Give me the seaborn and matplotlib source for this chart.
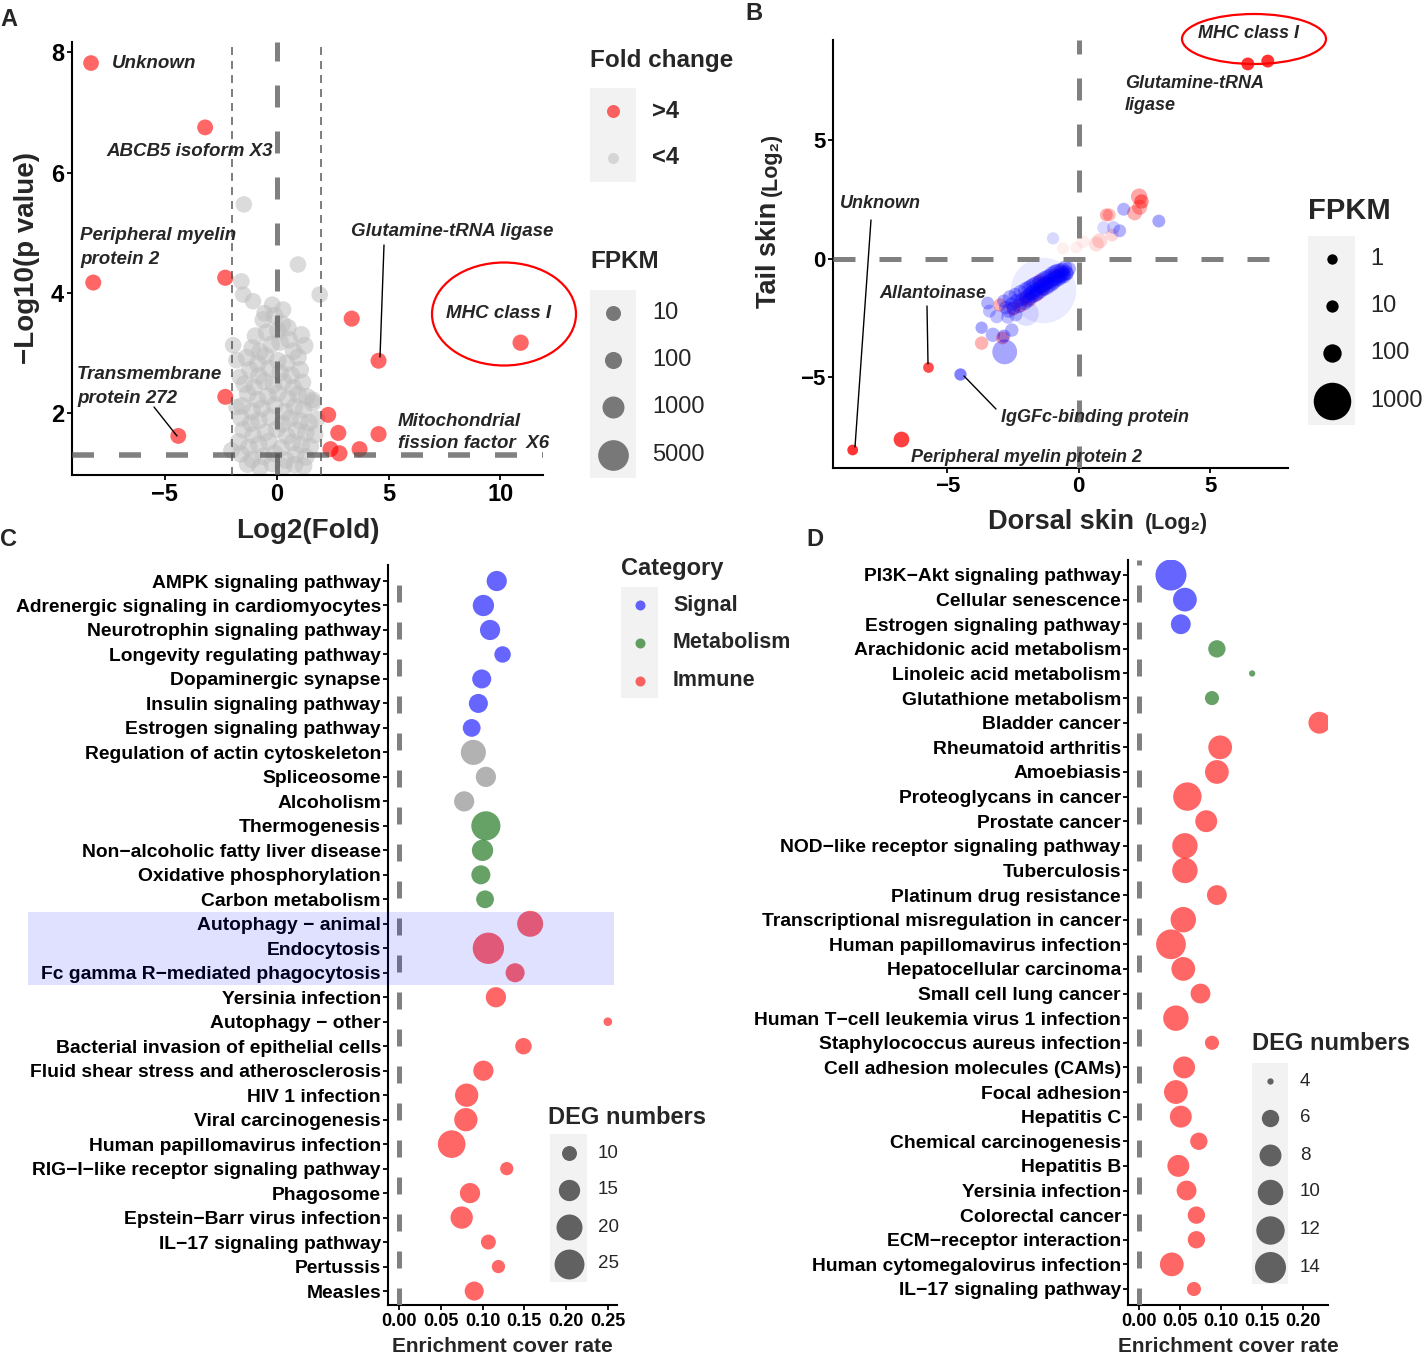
import numpy as np
import pandas as pd
import matplotlib
matplotlib.use('Agg')
import matplotlib.pyplot as plt
import matplotlib.transforms as mtransforms
from matplotlib.patches import Rectangle, Ellipse
from matplotlib.lines import Line2D
from matplotlib.ticker import FormatStrFormatter
import seaborn as sns

########## data ##########
# A: volcano plot
a_red_x = [-8.3, -3.2, -8.2, -2.3, -2.3, -4.4, 3.35, 4.55, 10.9, 2.3, 2.75, 2.4, 2.8, 3.7, 4.55]
a_red_y = [7.82, 6.75, 4.17, 4.25, 2.27, 1.62, 3.57, 2.87, 3.17, 1.97, 1.67, 1.40, 1.33, 1.40, 1.65]
a_red_fpkm = [20, 25, 30, 40, 30, 25, 35, 30, 45, 30, 35, 30, 40, 30, 35]

a_grey_x = [-1.47, 0.95, -1.58, -1.50, -1.06, 1.92, -0.54, 0.28, -0.20, -1.95, -1.80, -1.65, -1.80, -2.02, 1.62, 1.80,
            -0.6, -0.1, 0.25, 0.5,
            -0.95, -0.45, 0.05, 0.55, 1.1,
            -1.1, -0.75, -0.25, 0.15, 0.75, 1.25,
            -1.35, -0.85, -0.5, 0.05, 0.45, 0.95,
            -1.2, -0.8, -0.35, 0.15, 0.65, 1.05,
            -1.45, -1.0, -0.55, -0.15, 0.3, 0.75, 1.15,
            -1.3, -0.85, -0.4, 0.05, 0.5, 0.95, 1.35,
            -1.55, -1.1, -0.65, -0.1, 0.35, 0.8, 1.2, 1.6,
            -1.6, -1.15, -0.8, -0.3, 0.25, 0.6, 1.05, 1.45,
            -1.5, -1.05, -0.5, 0.0, 0.45, 0.9, 1.3, 1.7,
            -1.7, -1.25, -0.8, -0.35, 0.2, 0.7, 1.1, 1.5,
            -1.6, -1.1, -0.6, -0.1, 0.4, 0.85, 1.3,
            -1.3, -0.75, -0.2, 0.3, 0.8, 1.2]
a_grey_y = [5.47, 4.47, 4.19, 3.97, 3.86, 3.97, 3.66, 3.72, 3.80, 3.13, 2.88, 2.60, 2.10, 1.38, 2.22, 1.90,
            3.55, 3.62, 3.48, 3.42,
            3.28, 3.34, 3.37, 3.22, 3.30,
            3.08, 3.02, 3.14, 3.18, 3.03, 3.12,
            2.92, 2.82, 2.95, 2.87, 2.83, 2.93,
            2.72, 2.62, 2.74, 2.67, 2.63, 2.72,
            2.48, 2.43, 2.53, 2.47, 2.52, 2.42, 2.51,
            2.32, 2.22, 2.28, 2.33, 2.24, 2.31, 2.27,
            2.12, 2.03, 2.08, 2.13, 2.02, 2.11, 2.06, 2.17,
            1.92, 1.83, 1.88, 1.93, 1.82, 1.91, 1.87, 1.84,
            1.72, 1.63, 1.68, 1.73, 1.62, 1.71, 1.67, 1.64,
            1.52, 1.43, 1.48, 1.53, 1.42, 1.51, 1.47, 1.44,
            1.32, 1.23, 1.28, 1.33, 1.22, 1.31, 1.27,
            1.15, 1.10, 1.16, 1.11, 1.14, 1.12]
a_grey_fpkm = [60, 60, 60, 60, 60, 60, 80, 80, 80, 60, 60, 60, 60, 80, 60, 60] + [150] * 86

# B: dorsal vs tail skin -- labelled and scattered genes
b_x = [6.44, 7.20, -8.61, -6.78, -5.75, -4.53,
       2.30, 2.39, 2.32, 2.13, 1.71, 1.05, 1.16, 3.05, 0.95, 1.31, 1.56, 1.27, 0.80, 0.67, -0.98, -0.60, -0.09, 0.16,
       -1.37, -2.00,
       -3.47, -3.00, -3.12, -3.70, -3.27, -2.55, -2.90, -2.85, -3.70, -2.82, -3.40, -2.70, -2.40]
b_y = [8.23, 8.35, -8.06, -7.59, -4.56, -4.85,
       2.63, 2.46, 2.18, 1.95, 2.10, 1.86, 1.86, 1.60, 1.32, 1.36, 1.19, 1.01, 0.77, 0.63, 0.87, 0.45, 0.49, 0.73,
       -1.31, -2.30,
       -1.86, -1.94, -2.43, -2.90, -3.20, -3.00, -3.33, -3.25, -3.55, -3.92, -2.20, -2.45, -2.35]
b_fpkm = [15, 15, 2, 50, 2, 10,
          60, 30, 40, 40, 15, 15, 15, 15, 15, 15, 15, 15, 40, 40, 10, 10, 10, 15,
          4000, 300,
          15, 20, 20, 10, 30, 20, 15, 15, 20, 300, 15, 20, 20]
b_dir = (['up'] * 5 + ['down']
         + ['up', 'up', 'up', 'up', 'down', 'up', 'up', 'down', 'down', 'down', 'down', 'up', 'up', 'up', 'down', 'up', 'up', 'up']
         + ['down', 'down']
         + ['down', 'up', 'down', 'down', 'down', 'down', 'up', 'down', 'up', 'down', 'down', 'down', 'down'])
b_alpha = ([0.8, 0.8, 0.8, 0.75, 0.7, 0.5]
           + [0.35, 0.45, 0.3, 0.3, 0.3, 0.3, 0.25, 0.35, 0.15, 0.2, 0.3, 0.15, 0.15, 0.12, 0.15, 0.06, 0.06, 0.06]
           + [0.08, 0.12]
           + [0.3, 0.3, 0.25, 0.35, 0.3, 0.3, 0.35, 0.35, 0.3, 0.35, 0.25, 0.25, 0.25])

# B: dense cloud of down-regulated genes
b_core_x = [-0.38, -0.45,
            -0.52, -0.48, -0.55, -0.62, -0.58, -0.66, -0.72, -0.68, -0.75, -0.83, -0.78, -0.86,
            -0.92, -0.88, -0.95, -1.03, -0.97, -1.05, -1.12, -1.08, -1.15, -1.22, -1.18, -1.26,
            -1.32, -1.28, -1.35, -1.43, -1.38, -1.45, -1.52, -1.48, -1.56, -1.63, -1.58, -1.66,
            -1.72, -1.68, -1.75, -1.83, -1.78, -1.86, -1.92, -1.88, -1.96, -2.03, -1.98, -2.06,
            -2.22, -2.15, -2.28, -2.42, -2.36, -2.48, -2.62, -2.55, -2.68,
            -2.85, -2.78]
b_core_y = [-0.42, -0.62,
            -0.36, -0.58, -0.74, -0.47, -0.64, -0.79, -0.49, -0.68, -0.86, -0.52, -0.73, -0.92,
            -0.55, -0.80, -1.02, -0.62, -0.84, -1.08, -0.70, -0.93, -1.15, -0.77, -1.00, -1.22,
            -0.82, -1.04, -1.28, -0.90, -1.13, -1.36, -0.97, -1.19, -1.42, -1.03, -1.28, -1.52,
            -1.10, -1.34, -1.58, -1.16, -1.43, -1.67, -1.22, -1.49, -1.76, -1.30, -1.58, -1.86,
            -1.40, -1.70, -1.98, -1.50, -1.78, -2.08, -1.62, -1.90, -2.18,
            -1.78, -2.05]
b_core_fpkm = [30, 20,
               30, 40, 20, 40, 30, 20, 30, 40, 20, 40, 30, 20,
               30, 40, 20, 30, 40, 30, 20, 40, 30, 30, 20, 40,
               30, 40, 20, 30, 40, 30, 20, 30, 40, 30, 20, 30,
               40, 30, 20, 30, 40, 20, 30, 20, 30, 40, 20, 30,
               30, 20, 30, 20, 30, 20, 30, 20, 30,
               20, 20]
b_mix_x = [-1.87, -1.50, -1.20, -2.20, -2.50, -0.90, -1.60, -0.65, -2.05, -1.35]
b_mix_y = [-1.73, -0.95, -1.00, -1.95, -2.10, -0.70, -1.50, -0.55, -1.65, -1.25]

# C: KEGG enrichment (dorsal)
c_path = ['AMPK signaling pathway', 'Adrenergic signaling in cardiomyocytes', 'Neurotrophin signaling pathway',
          'Longevity regulating pathway', 'Dopaminergic synapse', 'Insulin signaling pathway',
          'Estrogen signaling pathway', 'Regulation of actin cytoskeleton', 'Spliceosome', 'Alcoholism',
          'Thermogenesis', 'Non−alcoholic fatty liver disease', 'Oxidative phosphorylation', 'Carbon metabolism',
          'Autophagy − animal', 'Endocytosis', 'Fc gamma R−mediated phagocytosis', 'Yersinia infection',
          'Autophagy − other', 'Bacterial invasion of epithelial cells', 'Fluid shear stress and atherosclerosis',
          'HIV 1 infection', 'Viral carcinogenesis', 'Human papillomavirus infection',
          'RIG−I−like receptor signaling pathway', 'Phagosome', 'Epstein−Barr virus infection',
          'IL−17 signaling pathway', 'Pertussis', 'Measles']
c_rate = [0.117, 0.101, 0.109, 0.124, 0.099, 0.095, 0.087, 0.089, 0.104, 0.078, 0.104, 0.100, 0.098, 0.103,
          0.157, 0.107, 0.139, 0.116, 0.250, 0.149, 0.101, 0.081, 0.080, 0.063, 0.129, 0.085, 0.075, 0.107,
          0.119, 0.090]
c_deg = [14, 15, 14, 11, 13, 13, 12, 19, 14, 14, 24, 15, 13, 12, 20, 27, 13, 14, 7, 11, 14, 17, 17, 22, 9, 14,
         16, 10, 9, 13]
c_cat = ['Signal'] * 7 + ['Other'] * 3 + ['Metabolism'] * 4 + ['Immune'] * 16

# D: KEGG enrichment (tail)
d_path = ['PI3K−Akt signaling pathway', 'Cellular senescence', 'Estrogen signaling pathway',
          'Arachidonic acid metabolism', 'Linoleic acid metabolism', 'Glutathione metabolism', 'Bladder cancer',
          'Rheumatoid arthritis', 'Amoebiasis', 'Proteoglycans in cancer', 'Prostate cancer',
          'NOD−like receptor signaling pathway', 'Tuberculosis', 'Platinum drug resistance',
          'Transcriptional misregulation in cancer', 'Human papillomavirus infection', 'Hepatocellular carcinoma',
          'Small cell lung cancer', 'Human T−cell leukemia virus 1 infection', 'Staphylococcus aureus infection',
          'Cell adhesion molecules (CAMs)', 'Focal adhesion', 'Hepatitis C', 'Chemical carcinogenesis',
          'Hepatitis B', 'Yersinia infection', 'Colorectal cancer', 'ECM−receptor interaction',
          'Human cytomegalovirus infection', 'IL−17 signaling pathway']
d_rate = [0.039, 0.056, 0.051, 0.095, 0.138, 0.089, 0.220, 0.099, 0.095, 0.059, 0.082, 0.056, 0.056, 0.095,
          0.054, 0.039, 0.054, 0.075, 0.045, 0.089, 0.055, 0.045, 0.051, 0.073, 0.048, 0.058, 0.070, 0.070,
          0.040, 0.067]
d_deg = [14, 9, 7, 6, 4, 5, 8, 9, 9, 12, 8, 10, 10, 7, 10, 13, 9, 7, 10, 5, 8, 9, 8, 6, 8, 7, 6, 6, 9, 5]
d_cat = ['Signal'] * 3 + ['Metabolism'] * 3 + ['Immune'] * 24

cat_colors = {'Signal': 'blue', 'Metabolism': 'darkgreen', 'Immune': 'red', 'Other': '#7f7f7f'}
##########################

W, H = 1426, 1357
PT = 0.72  # points per pixel at dpi 100
R_GREY = '#bebebe'

sns.set_style('ticks')
plt.rcParams['font.family'] = ['Liberation Sans', 'DejaVu Sans']
plt.rcParams['font.weight'] = 'bold'
plt.rcParams['axes.labelweight'] = 'bold'
plt.rcParams['lines.scale_dashes'] = False
plt.rcParams['axes.linewidth'] = 1.5


def fx(x):
    return x / W


def fy(y):
    return 1 - y / H


def box(l, t, r, b):
    return [fx(l), fy(b), (r - l) / W, (b - t) / H]


# ggplot-like area scales: diameter (px) -> marker area (pt^2)
def area(d):
    return (d * PT) ** 2


def diam_a(f):
    return 15 + 15.7 * np.sqrt(max(f - 10, 0) / 4990)


def diam_b(f):
    return 9.5 + 28 * np.sqrt(f / 1000)


def diam_c(v):
    return 2.3 + 29 * np.sqrt((v - 6) / 21)


def diam_d(v):
    return 6.3 + 24.7 * np.sqrt((v - 4) / 10)


def style_axes(ax, labelsize):
    sns.despine(ax=ax)
    for s in ['left', 'bottom']:
        ax.spines[s].set_linewidth(1.5)
        ax.spines[s].set_color('black')
    ax.tick_params(direction='out', length=5 * PT, width=1.3, labelsize=labelsize, colors='black', pad=2)
    ax.set_facecolor('white')


def dashed(ax, orient, v, lw_px, on_px, off_px, color, alpha=1.0):
    f = ax.axhline if orient == 'h' else ax.axvline
    ln = f(v, color=color, lw=lw_px * PT, alpha=alpha, zorder=4)
    ln.set_dashes((on_px * PT, off_px * PT))


def legend_block(title, tx, ty, tsize, keybox, keys, label_x, lsize, lweight):
    fig.text(fx(tx), fy(ty), title, fontsize=tsize, fontweight='bold', ha='left', va='center')
    l, t, r, b = keybox
    fig.add_artist(Rectangle((fx(l), fy(b)), (r - l) / W, (b - t) / H, transform=fig.transFigure,
                             facecolor='#f2f2f2', edgecolor='none'))
    kx = (l + r) / 2
    for ky, d, col, al, lab in keys:
        fig.add_artist(Line2D([fx(kx)], [fy(ky)], marker='o', markersize=d * PT, markerfacecolor=col,
                              markeredgecolor='none', alpha=al, linestyle='none', transform=fig.transFigure))
        fig.text(fx(label_x), fy(ky), lab, fontsize=lsize, fontweight=lweight, ha='left', va='center')


def note(x, y, s, size=13.5, **kw):
    fig.text(fx(x), fy(y), s, fontsize=size, fontweight='bold', fontstyle='italic', ha='left', va='center', **kw)


def seg(x0, y0, x1, y1):
    fig.add_artist(Line2D([fx(x0), fx(x1)], [fy(y0), fy(y1)], color='black', lw=1.0, transform=fig.transFigure))


def ring(cx, cy, w, h):
    fig.add_artist(Ellipse((fx(cx), fy(cy)), w / W, h / H, transform=fig.transFigure,
                           fill=False, edgecolor='red', lw=1.6))


fig = plt.figure(figsize=(W / 100, H / 100), dpi=100)
fig.patch.set_facecolor('white')

# ---------------- A ----------------
dfA = pd.concat([
    pd.DataFrame({'lfc': a_grey_x, 'logp': a_grey_y, 'fpkm': a_grey_fpkm, 'fold': '<4'}),
    pd.DataFrame({'lfc': a_red_x, 'logp': a_red_y, 'fpkm': a_red_fpkm, 'fold': '>4'}),
], ignore_index=True)
axA = fig.add_axes(box(72, 42, 543, 475))
for grp, col, al in [('<4', R_GREY, 0.55), ('>4', 'red', 0.6)]:
    sub = dfA[dfA['fold'] == grp]
    sns.scatterplot(data=sub, x='lfc', y='logp', size='fpkm',
                    sizes={v: area(diam_a(v)) for v in sub['fpkm'].unique()},
                    color=col, alpha=al, linewidth=0, legend=False, ax=axA)
dashed(axA, 'h', 1.3, 5.5, 22, 25, '#555555', 0.75)
dashed(axA, 'v', 0, 5, 22, 24, '#555555', 0.75)
dashed(axA, 'v', -2, 2, 8, 6, '#555555', 0.75)
dashed(axA, 'v', 2, 2, 8, 6, '#555555', 0.75)
axA.set_xlim(-9.15, 11.9)
axA.set_ylim(0.97, 8.17)
axA.set_xticks([-5, 0, 5, 10])
axA.set_yticks([2, 4, 6, 8])
style_axes(axA, 17)
axA.set_xlabel('Log2(Fold)', fontsize=20, labelpad=9)
axA.set_ylabel('−Log10(p value)', fontsize=20, labelpad=8)

note(112, 64, 'Unknown')
note(106, 152, 'ABCB5 isoform X3')
note(80, 236, 'Peripheral myelin')
note(80, 259, 'protein 2')
note(351, 231, 'Glutamine-tRNA ligase')
seg(384, 245, 380, 357)
note(446, 313, 'MHC class I')
ring(504, 314, 144, 103)
note(77, 374, 'Transmembrane')
note(77, 398, 'protein 272')
seg(154, 407, 177, 436)
note(398, 421, 'Mitochondrial')
note(398, 444, 'fission factor  X6')

legend_block('Fold change', 590, 60, 17.5, (590, 88, 636, 182),
             [(111, 13, 'red', 0.6, '>4'), (158, 11, R_GREY, 0.55, '<4')], 652, 17, 'bold')
legend_block('FPKM', 590, 262, 17.5, (590, 290, 636, 478),
             [(313, diam_a(10), 'black', 0.5, '10'), (360, diam_a(100), 'black', 0.5, '100'),
              (407, diam_a(1000), 'black', 0.5, '1000'), (455, diam_a(5000), 'black', 0.5, '5000')],
             652, 17, 'normal')

# ---------------- B ----------------
dfB = pd.concat([
    pd.DataFrame({'dorsal': b_x, 'tail': b_y, 'fpkm': b_fpkm, 'dir': b_dir, 'alpha': b_alpha}),
    pd.DataFrame({'dorsal': b_core_x, 'tail': b_core_y, 'fpkm': b_core_fpkm, 'dir': 'down', 'alpha': 0.3}),
    pd.DataFrame({'dorsal': b_mix_x, 'tail': b_mix_y, 'fpkm': 25, 'dir': 'up', 'alpha': 0.28}),
], ignore_index=True)
axB = fig.add_axes(box(833, 40, 1288, 468))
for al in sorted(dfB['alpha'].unique()):
    sub = dfB[dfB['alpha'] == al]
    sns.scatterplot(data=sub, x='dorsal', y='tail', hue='dir', palette={'up': 'red', 'down': 'blue'},
                    size='fpkm', sizes={v: area(diam_b(v)) for v in sub['fpkm'].unique()},
                    alpha=al, linewidth=0, legend=False, ax=axB)
dashed(axB, 'h', 0, 5, 22, 24, '#808080')
dashed(axB, 'v', 0, 5, 22, 24, '#808080')
axB.set_xlim(-9.36, 7.97)
axB.set_ylim(-8.82, 9.24)
axB.set_xticks([-5, 0, 5])
axB.set_yticks([-5, 0, 5])
style_axes(axB, 16)
axB.set_xlabel('')
axB.set_ylabel('')
fig.text(fx(988), fy(522), 'Dorsal skin', fontsize=19.5, fontweight='bold', ha='left', va='center')
fig.text(fx(1145), fy(524), '(Log₂)', fontsize=15.5, fontweight='bold', ha='left', va='center')
fig.text(fx(769), fy(308), 'Tail skin', fontsize=19.5, fontweight='bold', rotation=90, ha='center', va='bottom')
fig.text(fx(771), fy(196), '(Log₂)', fontsize=15.5, fontweight='bold', rotation=90, ha='center', va='bottom')

note(1198, 34, 'MHC class I', size=13)
ring(1254, 39, 144, 50)
note(1125, 84, 'Glutamine-tRNA', size=13)
note(1125, 105, 'ligase', size=13)
note(840, 204, 'Unknown', size=13)
seg(871, 220, 855, 447)
note(879, 294, 'Allantoinase', size=13)
seg(927, 306, 928, 364)
note(1001, 417, 'IgGFc-binding protein', size=13)
seg(996, 409, 964, 376)
note(911, 457, 'Peripheral myelin protein 2', size=13)

legend_block('FPKM', 1308, 211, 21, (1308, 236, 1355, 425),
             [(259, diam_b(1), 'black', 1, '1'), (306, diam_b(10), 'black', 1, '10'),
              (353, diam_b(100), 'black', 1, '100'), (401, diam_b(1000), 'black', 1, '1000')],
             1370, 17, 'normal')

# ---------------- C ----------------
dfC = pd.DataFrame({'pathway': c_path, 'rate': c_rate, 'deg': c_deg, 'cat': c_cat})
axC = fig.add_axes(box(388, 565, 617, 1305))
sns.scatterplot(data=dfC, x='rate', y='pathway', hue='cat', palette=cat_colors,
                size='deg', sizes={v: area(diam_c(v)) for v in set(c_deg)},
                alpha=0.6, linewidth=0, legend=False, ax=axC)
dashed(axC, 'v', 0, 5, 17, 20, '#808080')
axC.set_xlim(-0.0132, 0.261)
axC.set_ylim(29.57, -0.654)
axC.set_xticks([0, 0.05, 0.10, 0.15, 0.20, 0.25])
axC.xaxis.set_major_formatter(FormatStrFormatter('%.2f'))
style_axes(axC, 13)
axC.tick_params(axis='y', labelsize=13.9, pad=1.5)
axC.set_ylabel('')
axC.set_xlabel('Enrichment cover rate', fontsize=15, labelpad=5)
blend = mtransforms.blended_transform_factory(fig.transFigure, axC.transData)
hl = Rectangle((fx(28), 13.5), (614 - 28) / W, 3.0, transform=blend, facecolor='blue', alpha=0.12,
               edgecolor='none', zorder=5, clip_on=False)
axC.add_artist(hl)

legend_block('Category', 621, 568, 17, (621, 587, 658, 698),
             [(605, 10, 'blue', 0.6, 'Signal'), (643, 10, 'darkgreen', 0.6, 'Metabolism'),
              (681, 10, 'red', 0.6, 'Immune')], 673, 15.5, 'bold')
legend_block('DEG numbers', 548, 1117, 17, (550, 1134, 587, 1282),
             [(1153, diam_c(10), 'black', 0.6, '10'), (1190, diam_c(15), 'black', 0.6, '15'),
              (1227, diam_c(20), 'black', 0.6, '20'), (1264, diam_c(25), 'black', 0.6, '25')],
             598, 13.5, 'normal')

# ---------------- D ----------------
dfD = pd.DataFrame({'pathway': d_path, 'rate': d_rate, 'deg': d_deg, 'cat': d_cat})
axD = fig.add_axes(box(1128, 560, 1328, 1305))
sns.scatterplot(data=dfD, x='rate', y='pathway', hue='cat', palette=cat_colors,
                size='deg', sizes={v: area(diam_d(v)) for v in set(d_deg)},
                alpha=0.6, linewidth=0, legend=False, ax=axD)
dashed(axD, 'v', 0, 5, 17, 20, '#808080')
axD.set_xlim(-0.0134, 0.2305)
axD.set_ylim(29.65, -0.609)
axD.set_xticks([0, 0.05, 0.10, 0.15, 0.20])
axD.xaxis.set_major_formatter(FormatStrFormatter('%.2f'))
style_axes(axD, 13)
axD.tick_params(axis='y', labelsize=13.9, pad=1.5)
axD.set_ylabel('')
axD.set_xlabel('Enrichment cover rate', fontsize=15, labelpad=5)

legend_block('DEG numbers', 1252, 1043, 17, (1252, 1063, 1288, 1284),
             [(1081, diam_d(4), 'black', 0.6, '4'), (1118, diam_d(6), 'black', 0.6, '6'),
              (1155, diam_d(8), 'black', 0.6, '8'), (1192, diam_d(10), 'black', 0.6, '10'),
              (1230, diam_d(12), 'black', 0.6, '12'), (1267, diam_d(14), 'black', 0.6, '14')],
             1300, 13.5, 'normal')

# panel letters
for lab, x, y in [('A', 0, 20), ('B', 745, 14), ('C', 0, 540), ('D', 806, 540)]:
    fig.text(fx(x), fy(y), lab, fontsize=17, fontweight='bold', ha='left', va='center')

fig.savefig('out.png', dpi=100)
